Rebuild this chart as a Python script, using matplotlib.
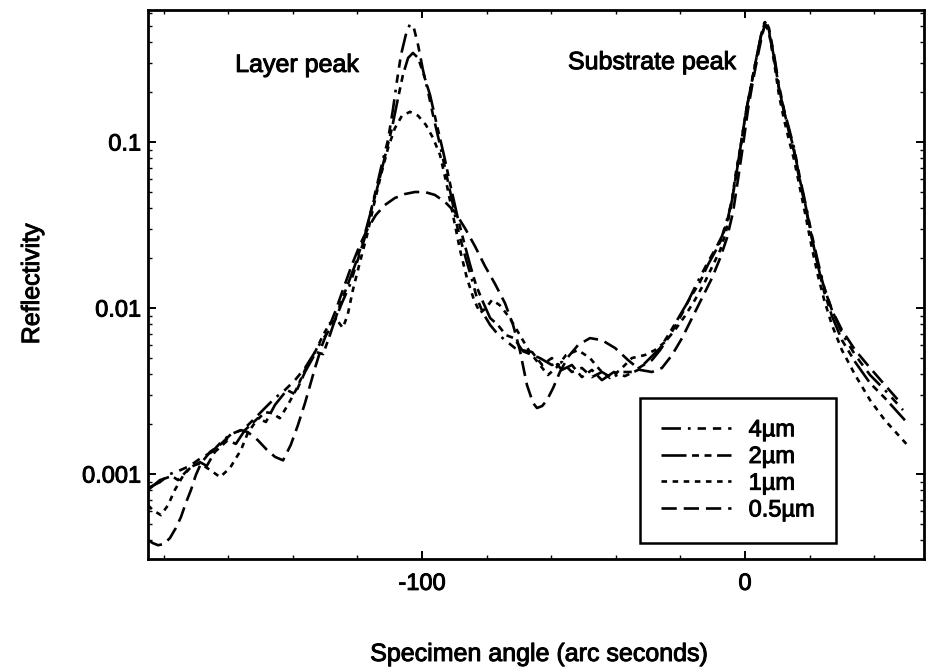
import matplotlib
matplotlib.use("Agg")
import matplotlib.pyplot as plt
import matplotlib.patheffects as pe
from matplotlib.ticker import LogLocator, MultipleLocator, NullFormatter, FixedLocator, FixedFormatter

plt.rcParams['font.family'] = ['Liberation Sans', 'DejaVu Sans']
plt.rcParams['lines.scale_dashes'] = False

# Rocking curves for layers of different thickness (angle in arc seconds)
angle_4um = [-184.8, -181.1, -178.0, -174.6, -171.9, -168.4, -165.0, -161.9, -159.1, -156.0,
             -153.9, -151.1, -148.6, -145.5, -142.4, -139.3, -136.2, -133.7, -131.3, -129.1,
             -126.9, -124.8, -122.3, -120.1, -117.9, -116.1, -113.9, -112.1, -110.5, -109.0,
             -107.7, -106.5, -105.0, -103.7, -102.5, -101.2, -99.7, -98.1, -96.6, -94.4,
             -92.6, -90.7, -89.2, -87.6, -86.1, -84.5, -83.0, -81.1, -78.9, -76.8,
             -74.3, -71.2, -68.1, -63.5, -59.8, -56.7, -53.6, -50.5, -47.4, -44.3,
             -41.2, -38.1, -35.0, -31.9, -28.8, -26.3, -23.8, -21.4, -18.9, -16.4,
             -13.9, -11.5, -9.0, -7.1, -5.6, -4.0, -2.5, -1.2, 0.3, 1.9,
             3.4, 5.0, 6.2, 7.4, 9.0, 10.5, 12.1, 13.6, 15.2, 17.0,
             18.9, 20.7, 22.6, 24.5, 26.9, 30.0, 34.1, 38.7, 43.3, 48.9]
refl_4um = [0.000824, 0.000895, 0.00100, 0.00106, 0.00112, 0.00125, 0.00136, 0.00158, 0.00174, 0.00184,
            0.00197, 0.00223, 0.00250, 0.00287, 0.00321, 0.00368, 0.00436, 0.00521, 0.00624, 0.00716,
            0.00847, 0.0107, 0.0138, 0.0189, 0.0257, 0.0363, 0.0551, 0.0780, 0.103, 0.156,
            0.236, 0.334, 0.442, 0.514, 0.486, 0.384, 0.272, 0.200, 0.146, 0.0959,
            0.0659, 0.0448, 0.0316, 0.0240, 0.0189, 0.0148, 0.0115, 0.00933, 0.00791, 0.00706,
            0.00641, 0.00574, 0.00543, 0.00500, 0.00454, 0.00473, 0.00412, 0.00436, 0.00384, 0.00412,
            0.00379, 0.00412, 0.00412, 0.00448, 0.00486, 0.00558, 0.00659, 0.00791, 0.00973, 0.0123,
            0.0154, 0.0189, 0.0230, 0.0272, 0.0339, 0.0448, 0.0678, 0.0986, 0.152, 0.220,
            0.312, 0.442, 0.543, 0.486, 0.334, 0.220, 0.156, 0.121, 0.0920, 0.0607,
            0.0411, 0.0275, 0.0189, 0.0134, 0.00973, 0.00706, 0.00521, 0.00395, 0.00321, 0.00243]

angle_2um = [-184.8, -181.1, -177.4, -175.5, -171.9, -168.7, -166.6, -164.1, -160.1, -157.6,
             -154.8, -150.8, -148.3, -145.5, -141.8, -139.3, -136.2, -132.8, -130.6, -128.5,
             -125.4, -123.0, -120.7, -118.2, -116.1, -113.6, -111.5, -109.3, -107.4, -105.9,
             -104.3, -102.8, -101.2, -99.7, -97.5, -95.4, -93.2, -91.0, -88.9, -87.0,
             -85.1, -83.3, -81.4, -78.9, -76.5, -74.0, -71.5, -69.0, -65.9, -62.8,
             -59.8, -56.7, -53.6, -50.5, -47.4, -44.3, -40.6, -37.2, -33.1, -29.4,
             -26.3, -23.2, -20.1, -17.0, -13.9, -11.5, -9.0, -7.1, -5.6, -4.0,
             -2.5, -1.2, 0.3, 1.9, 3.4, 5.0, 6.2, 7.4, 9.0, 10.5,
             12.1, 13.6, 15.2, 17.0, 18.9, 20.7, 22.6, 24.5, 26.9, 30.0,
             34.1, 38.7, 43.3, 49.5]
refl_2um = [0.000802, 0.000920, 0.000973, 0.000920, 0.00109, 0.00118, 0.00112, 0.00136, 0.00160, 0.00152,
            0.00184, 0.00217, 0.00206, 0.00261, 0.00321, 0.00303, 0.00412, 0.00543, 0.00528, 0.00687,
            0.0104, 0.0138, 0.0182, 0.0257, 0.0363, 0.0551, 0.0812, 0.121, 0.184, 0.253,
            0.321, 0.344, 0.321, 0.264, 0.192, 0.127, 0.0835, 0.0528, 0.0348, 0.0250,
            0.0182, 0.0138, 0.0112, 0.00871, 0.00791, 0.00687, 0.00659, 0.00558, 0.00543, 0.00454,
            0.00500, 0.00424, 0.00454, 0.00384, 0.00424, 0.00368, 0.00412, 0.00389, 0.00424, 0.00500,
            0.00574, 0.00716, 0.00908, 0.0115, 0.0144, 0.0182, 0.0223, 0.0264, 0.0330, 0.0448,
            0.0678, 0.0986, 0.152, 0.220, 0.312, 0.442, 0.528, 0.473, 0.321, 0.211,
            0.152, 0.118, 0.0895, 0.0590, 0.0400, 0.0264, 0.0179, 0.0125, 0.00895, 0.00641,
            0.00473, 0.00353, 0.00287, 0.00211]

angle_1um = [-184.8, -183.3, -180.8, -178.6, -176.5, -174.0, -171.2, -168.7, -165.6, -162.5,
             -159.4, -156.0, -153.9, -151.4, -148.6, -146.4, -144.0, -141.5, -139.0, -136.2,
             -133.1, -130.6, -128.5, -126.3, -124.5, -123.0, -121.4, -119.2, -117.0, -114.9,
             -112.7, -110.5, -108.4, -106.2, -103.7, -101.2, -98.8, -96.6, -94.4, -92.3,
             -90.4, -88.2, -86.1, -83.9, -82.0, -80.2, -78.3, -75.9, -72.8, -69.7,
             -66.6, -63.5, -61.0, -58.5, -55.4, -51.7, -48.0, -44.9, -41.8, -38.7,
             -35.0, -31.0, -27.9, -24.8, -21.7, -18.6, -15.5, -12.4, -9.9, -7.7,
             -5.9, -4.3, -2.8, -1.2, 0.3, 1.9, 3.4, 5.0, 6.2, 7.4,
             9.0, 10.5, 12.1, 13.6, 15.2, 17.0, 18.9, 20.7, 22.6, 24.5,
             26.9, 30.0, 34.1, 38.7, 43.3, 50.2]
refl_1um = [0.000650, 0.000607, 0.000566, 0.000650, 0.000802, 0.000973, 0.00112, 0.00116, 0.00106, 0.000959,
            0.00109, 0.00140, 0.00177, 0.00208, 0.00236, 0.00233, 0.00217, 0.00261, 0.00321, 0.00424,
            0.00543, 0.00687, 0.00812, 0.00847, 0.00759, 0.00908, 0.0128, 0.0189, 0.0275, 0.0417,
            0.0633, 0.0920, 0.121, 0.144, 0.152, 0.144, 0.127, 0.106, 0.0835, 0.0551,
            0.0363, 0.0223, 0.0152, 0.0112, 0.00933, 0.0100, 0.0112, 0.0104, 0.00871, 0.00687,
            0.00543, 0.00454, 0.00395, 0.00436, 0.00521, 0.00558, 0.00500, 0.00424, 0.00379, 0.00424,
            0.00500, 0.00521, 0.00558, 0.00624, 0.00737, 0.00895, 0.0112, 0.0144, 0.0182, 0.0223,
            0.0287, 0.0417, 0.0659, 0.0986, 0.152, 0.220, 0.312, 0.430, 0.514, 0.460,
            0.303, 0.192, 0.136, 0.103, 0.0780, 0.0528, 0.0348, 0.0230, 0.0156, 0.0112,
            0.00791, 0.00558, 0.00395, 0.00279, 0.00211, 0.00150]

angle_05um = [-184.8, -183.3, -181.7, -179.9, -178.0, -176.2, -174.6, -173.1, -171.5, -170.0,
              -168.4, -165.6, -162.5, -159.1, -156.0, -153.9, -150.8, -148.0, -145.5, -143.0,
              -140.6, -138.4, -136.2, -133.1, -130.9, -129.1, -126.9, -124.5, -121.7, -119.2,
              -116.7, -114.3, -111.5, -108.4, -105.3, -102.2, -99.1, -96.0, -92.9, -89.8,
              -86.7, -83.6, -80.5, -77.4, -74.3, -71.8, -69.7, -67.5, -65.6, -64.4,
              -62.8, -61.3, -59.4, -57.3, -54.8, -51.7, -48.0, -44.3, -40.2, -36.2,
              -32.5, -28.8, -25.7, -22.6, -19.5, -16.4, -13.3, -10.2, -7.7, -5.6,
              -3.7, -2.2, -0.6, 0.9, 2.5, 4.0, 5.3, 6.2, 7.4, 9.0,
              10.5, 12.1, 13.6, 15.2, 17.0, 18.9, 20.7, 22.6, 24.5, 26.9,
              30.0, 34.1, 38.7, 43.3, 47.4]
refl_05um = [0.000400, 0.000384, 0.000373, 0.000379, 0.000412, 0.000473, 0.000551, 0.000669, 0.000802, 0.000986,
             0.00116, 0.00136, 0.00150, 0.00174, 0.00184, 0.00179, 0.00160, 0.00140, 0.00127, 0.00121,
             0.00150, 0.00197, 0.00268, 0.00436, 0.00598, 0.00737, 0.00946, 0.0128, 0.0182, 0.0240,
             0.0303, 0.0363, 0.0417, 0.0460, 0.0486, 0.0500, 0.0500, 0.0480, 0.0436, 0.0379,
             0.0303, 0.0236, 0.0179, 0.0140, 0.0107, 0.00791, 0.00558, 0.00344, 0.00268, 0.00250,
             0.00257, 0.00279, 0.00330, 0.00412, 0.00507, 0.00598, 0.00659, 0.00641, 0.00574, 0.00486,
             0.00424, 0.00412, 0.00436, 0.00521, 0.00659, 0.00871, 0.0115, 0.0152, 0.0200, 0.0264,
             0.0379, 0.0590, 0.0959, 0.156, 0.236, 0.334, 0.442, 0.514, 0.460, 0.321,
             0.211, 0.152, 0.115, 0.0871, 0.0574, 0.0389, 0.0264, 0.0182, 0.0132, 0.00973,
             0.00737, 0.00558, 0.00436, 0.00344, 0.00279]

series_labels = ['4\u00b5m', '2\u00b5m', '1\u00b5m', '0.5\u00b5m']
series_angles = [angle_4um, angle_2um, angle_1um, angle_05um]
series_refl = [refl_4um, refl_2um, refl_1um, refl_05um]
series_dashes = [(14, 5, 2, 5, 6, 5, 6, 5), (18, 4, 5, 4, 5, 4), (4, 4), (11, 5)]

y_ticks = [0.001, 0.01, 0.1]
y_tick_labels = ['0.001', '0.01', '0.1']
x_ticks = [-100, 0]
x_tick_labels = ['-100', '0']

# slightly heavier text, like a printed figure
heavy = [pe.withStroke(linewidth=0.7, foreground='black')]

fig = plt.figure(figsize=(9.26, 6.68), dpi=100)
ax = fig.add_axes([148 / 926, 1 - 559 / 668, 776 / 926, 549 / 668])

for xs, ys, lab, ds in zip(series_angles, series_refl, series_labels, series_dashes):
    ax.plot(xs, ys, color='black', lw=1.9, dashes=ds, label=lab)

ax.set_yscale('log')
ax.set_xlim(-184.8, 55.4)
ax.set_ylim(3.08e-4, 0.624)

ax.yaxis.set_major_locator(FixedLocator(y_ticks))
ax.yaxis.set_major_formatter(FixedFormatter(y_tick_labels))
ax.yaxis.set_minor_locator(LogLocator(base=10, subs=range(2, 10)))
ax.yaxis.set_minor_formatter(NullFormatter())
ax.xaxis.set_major_locator(FixedLocator(x_ticks))
ax.xaxis.set_major_formatter(FixedFormatter(x_tick_labels))
ax.xaxis.set_minor_locator(MultipleLocator(20))

ax.tick_params(which='both', direction='in', top=True, right=True, colors='black')
ax.tick_params(which='major', length=6, width=1.4, labelsize=17, pad=10)
ax.tick_params(axis='y', which='major', pad=5)
ax.tick_params(which='minor', length=3, width=1.0)
for s in ax.spines.values():
    s.set_linewidth(2.0)
for t in ax.get_xticklabels() + ax.get_yticklabels():
    t.set_path_effects(heavy)

ax.text(0.192, 0.90, 'Layer peak', transform=ax.transAxes, ha='center', va='center',
        fontsize=18, path_effects=heavy)
ax.text(0.6495, 0.905, 'Substrate peak', transform=ax.transAxes, ha='center', va='center',
        fontsize=18, path_effects=heavy)

fig.text(32 / 926, 1 - 284 / 668, 'Reflectivity', rotation=90, ha='center', va='center',
         fontsize=18, path_effects=heavy)
fig.text(539 / 926, 1 - 654 / 668, 'Specimen angle (arc seconds)', ha='center', va='center',
         fontsize=18, path_effects=heavy)

leg = ax.legend(loc='upper left', bbox_to_anchor=(640 / 926, 1 - 398 / 668),
                bbox_transform=fig.transFigure, borderaxespad=0, fontsize=17,
                handlelength=2.95, handletextpad=0.75, labelspacing=0.2,
                borderpad=0.9, fancybox=False, framealpha=1)
leg.get_frame().set_edgecolor('black')
leg.get_frame().set_linewidth(1.8)
for t in leg.get_texts():
    t.set_path_effects(heavy)

fig.savefig('out.png', dpi=100)
